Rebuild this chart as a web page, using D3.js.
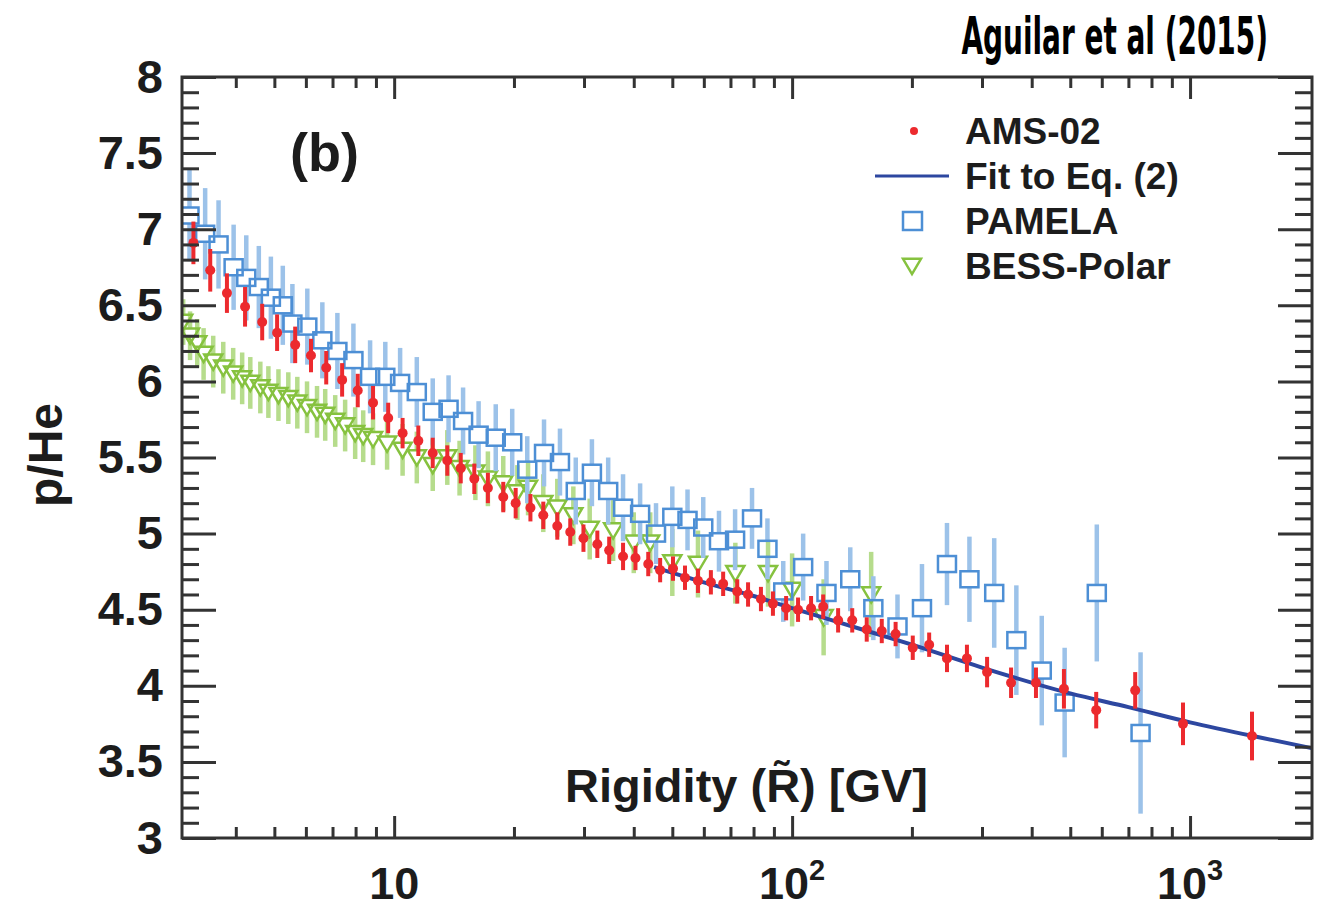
<!DOCTYPE html>
<html>
<head>
<meta charset="utf-8">
<script src="https://cdn.jsdelivr.net/npm/d3@7"></script>
<style>
  body { margin: 0; background: #fff; }
  text { font-family: "Liberation Sans", Arial, Helvetica, sans-serif; font-weight: bold; fill: #1c1c1c; }
</style>
</head>
<body>
<div id="chart"></div>
<script>
// AMS-02 p/He
const amsR = [3.13, 3.45, 3.8, 4.22, 4.66, 5.08, 5.64, 6.18, 6.75, 7.4, 8.1, 8.85,
  9.66, 10.5, 11.5, 12.5, 13.6, 14.7, 15.9, 17.2, 18.8, 20.2, 22.0, 23.7, 25.7, 27.7, 29.9, 32.4, 34.7, 37.6,
  40.4, 43.5, 46.6, 50.2, 53.8, 58.0, 62.5, 67.1, 72.8, 77.5, 83.5, 89.5, 96.6, 103.5, 111.6, 119.7, 130.5, 141.6, 154, 168, 182,
  201, 221, 245, 275, 309, 355, 410, 482, 581, 728, 960, 1431];
const amsV = [6.91, 6.73, 6.58, 6.49, 6.39, 6.32, 6.24, 6.17, 6.09, 6.01, 5.94, 5.86,
  5.76, 5.66, 5.61, 5.53, 5.48, 5.43, 5.36, 5.30, 5.24, 5.20, 5.17, 5.12, 5.05, 5.01, 4.97, 4.93, 4.89, 4.85,
  4.84, 4.80, 4.76, 4.77, 4.71, 4.69, 4.68, 4.67, 4.62, 4.60, 4.57, 4.54, 4.51, 4.50, 4.51, 4.52, 4.43, 4.43, 4.37, 4.36, 4.34,
  4.25, 4.27, 4.18, 4.18, 4.09, 4.02, 4.02, 3.98, 3.84, 3.97, 3.75, 3.67];
const amsErr = [0.14, 0.14, 0.13, 0.13, 0.12, 0.12, 0.12, 0.11, 0.11, 0.11, 0.11, 0.11,
  0.10, 0.10, 0.10, 0.10, 0.10, 0.10, 0.10, 0.10, 0.10, 0.10, 0.09, 0.09, 0.09, 0.09, 0.09, 0.09, 0.09, 0.09,
  0.08, 0.08, 0.08, 0.08, 0.08, 0.08, 0.08, 0.08, 0.08, 0.08, 0.08, 0.08, 0.08, 0.08, 0.08, 0.08, 0.08, 0.08, 0.08, 0.08, 0.08,
  0.08, 0.08, 0.09, 0.09, 0.10, 0.10, 0.10, 0.13, 0.12, 0.12, 0.14, 0.16];

// PAMELA
const pamR = [3.06, 3.35, 3.62, 3.95, 4.25, 4.57, 4.90, 5.25, 5.55, 6.05, 6.6, 7.2, 7.9, 8.7, 9.5,
  10.35, 11.4, 12.5, 13.7, 14.9, 16.3, 18.0, 19.8, 21.6, 23.8, 26.1, 28.6, 31.4, 34.5, 37.6,
  41.5, 45.5, 50, 54.6, 59.8, 65.5, 71.9, 79.3, 86.7, 95, 106.6, 122, 140, 160, 184, 212,
  245, 279, 322, 366, 424, 484, 583, 751];
const pamV = [7.09, 6.97, 6.90, 6.75, 6.68, 6.62, 6.55, 6.50, 6.38, 6.36, 6.27, 6.20, 6.14, 6.03, 6.03,
  5.99, 5.93, 5.80, 5.82, 5.74, 5.65, 5.63, 5.60, 5.42, 5.53, 5.47, 5.28, 5.40, 5.28, 5.17,
  5.13, 5.00, 5.11, 5.09, 5.04, 4.95, 4.96, 5.10, 4.90, 4.62, 4.78, 4.61, 4.70, 4.51, 4.39, 4.51,
  4.80, 4.70, 4.61, 4.30, 4.10, 3.89, 4.61, 3.69];
const pamErr = [0.30, 0.30, 0.29, 0.28, 0.28, 0.27, 0.27, 0.26, 0.26, 0.25, 0.25, 0.25, 0.24, 0.24, 0.23,
  0.23, 0.23, 0.22, 0.22, 0.22, 0.22, 0.22, 0.22, 0.22, 0.22, 0.22, 0.22, 0.22, 0.22, 0.22,
  0.20, 0.20, 0.20, 0.20, 0.20, 0.20, 0.20, 0.20, 0.20, 0.20, 0.22, 0.21, 0.21, 0.21, 0.21, 0.29,
  0.27, 0.28, 0.36, 0.36, 0.36, 0.36, 0.45, 0.53];

// BESS-Polar
const bessR = [2.95, 3.07, 3.20, 3.32, 3.51, 3.72, 3.94, 4.15, 4.35, 4.61, 4.83, 5.12, 5.42, 5.71, 6.04,
  6.40, 6.71, 7.11, 7.53, 7.98, 8.36, 8.85, 9.60, 10.5, 11.4, 12.5, 13.6, 14.6, 16.0, 17.2,
  18.8, 20.4, 21.7, 23.7, 25.7, 28.2, 31.0, 35.5, 40, 44, 50, 58, 72, 87, 100, 120, 158];
const bessV = [6.39, 6.30, 6.25, 6.18, 6.13, 6.09, 6.05, 6.02, 5.99, 5.96, 5.93, 5.91, 5.89, 5.86, 5.83,
  5.80, 5.78, 5.74, 5.71, 5.66, 5.64, 5.62, 5.59, 5.55, 5.50, 5.45, 5.50, 5.43, 5.40, 5.36,
  5.33, 5.27, 5.30, 5.20, 5.17, 5.12, 5.03, 5.02, 4.94, 4.94, 4.81, 4.80, 4.74, 4.74, 4.63, 4.45, 4.60];
const bessErr = [0.15, 0.16, 0.16, 0.17, 0.17, 0.17, 0.17, 0.17, 0.17, 0.17, 0.17, 0.17, 0.17, 0.17, 0.17,
  0.17, 0.17, 0.17, 0.17, 0.17, 0.17, 0.17, 0.17, 0.17, 0.17, 0.17, 0.18, 0.18, 0.18, 0.18,
  0.18, 0.18, 0.18, 0.19, 0.19, 0.19, 0.20, 0.20, 0.20, 0.20, 0.22, 0.22, 0.20, 0.22, 0.24, 0.25, 0.28];

// Fit to Eq. (2)
const fitR = [45, 60, 80, 100, 150, 200, 300, 500, 700, 1000, 1500, 2025];
const fitV = [4.78, 4.68, 4.59, 4.51, 4.37, 4.27, 4.12, 3.95, 3.86, 3.76, 3.66, 3.59];

// axes
const yMajor = [3, 3.5, 4, 4.5, 5, 5.5, 6, 6.5, 7, 7.5, 8];
const yLabels = ["3", "3.5", "4", "4.5", "5", "5.5", "6", "6.5", "7", "7.5", "8"];
const xMajor = [10, 100, 1000];
const xExp = ["", "2", "3"];
const legendNames = ["AMS-02", "Fit to Eq. (2)", "PAMELA", "BESS-Polar"];

const W = 1323, H = 910;
const L = 182, R = 1312, T = 77, B = 838;

const svg = d3.select("#chart").append("svg").attr("width", W).attr("height", H);

const x = d3.scaleLog().domain([2.93, 2025]).range([L, R]);
const y = d3.scaleLinear().domain([3, 8]).range([B, T]);

const zip = (rs, vs, es) => rs.map((r, i) => ({ r, v: vs[i], e: es ? es[i] : 0 }));
const ams = zip(amsR, amsV, amsErr);
const pam = zip(pamR, pamV, pamErr);
const bess = zip(bessR, bessV, bessErr);

svg.append("clipPath").attr("id", "clip")
  .append("rect").attr("x", L).attr("y", T).attr("width", R - L).attr("height", B - T);

const plot = svg.append("g").attr("clip-path", "url(#clip)");

// error bars that stop at the edge of an open marker
function gapBars(g, data, gap, color) {
  g.selectAll(null).data(data).enter().append("line")
    .attr("x1", d => x(d.r)).attr("x2", d => x(d.r))
    .attr("y1", d => y(d.v + d.e)).attr("y2", d => Math.max(y(d.v) - gap, y(d.v + d.e)))
    .attr("stroke", color).attr("stroke-width", 4.5);
  g.selectAll(null).data(data).enter().append("line")
    .attr("x1", d => x(d.r)).attr("x2", d => x(d.r))
    .attr("y1", d => Math.min(y(d.v) + gap, y(d.v - d.e))).attr("y2", d => y(d.v - d.e))
    .attr("stroke", color).attr("stroke-width", 4.5);
}

// BESS-Polar
const gB = plot.append("g");
gapBars(gB, bess, 7, "#b6dc8c");
const tri = s => `M${-s},${-s * 0.8}L${s},${-s * 0.8}L0,${s * 0.9}Z`;
gB.selectAll("path.tri").data(bess).enter().append("path")
  .attr("class", "tri")
  .attr("d", tri(9))
  .attr("transform", d => `translate(${x(d.r)},${y(d.v)})`)
  .attr("fill", "none").attr("stroke", "#86c23f").attr("stroke-width", 2.5);

// PAMELA
const gP = plot.append("g");
gapBars(gP, pam, 8, "#9cc2e9");
gP.selectAll("rect").data(pam).enter().append("rect")
  .attr("x", d => x(d.r) - 9).attr("y", d => y(d.v) - 8)
  .attr("width", 18).attr("height", 16)
  .attr("fill", "none").attr("stroke", "#4d8fd5").attr("stroke-width", 2.5);

// fit line
plot.append("path").datum(zip(fitR, fitV))
  .attr("d", d3.line().x(d => x(d.r)).y(d => y(d.v)).curve(d3.curveMonotoneX))
  .attr("fill", "none").attr("stroke", "#2d47a0").attr("stroke-width", 4);

// AMS-02
const gA = plot.append("g");
gA.selectAll("line").data(ams).enter().append("line")
  .attr("x1", d => x(d.r)).attr("x2", d => x(d.r))
  .attr("y1", d => y(d.v + d.e)).attr("y2", d => y(d.v - d.e))
  .attr("stroke", "#ec2a2e").attr("stroke-width", 4);
gA.selectAll("circle").data(ams).enter().append("circle")
  .attr("cx", d => x(d.r)).attr("cy", d => y(d.v)).attr("r", 5)
  .attr("fill", "#ec2a2e");

// axes: ticks pointing inward on all four sides
const yMinor = d3.range(30, 81).map(v => v / 10).filter(v => !yMajor.includes(v));
const xMinor = [3, 4, 5, 6, 7, 8, 9, 20, 30, 40, 50, 60, 70, 80, 90, 200, 300, 400, 500, 600, 700, 800, 900, 2000]
  .filter(v => x(v) > L + 5 && x(v) < R - 5);

const axisStyle = g => {
  g.select(".domain").remove();
  g.selectAll("line").attr("stroke", "#333").attr("stroke-width", 3);
};

svg.append("g").attr("transform", `translate(${L},0)`)
  .call(d3.axisLeft(y).tickValues(yMajor).tickSize(-34).tickPadding(19)
    .tickFormat((d, i) => yLabels[i]))
  .call(axisStyle)
  .call(g => g.selectAll("text").attr("font-size", 47).attr("fill", "#1c1c1c")
    .style("font-family", '"Liberation Sans", Arial, sans-serif').style("font-weight", "bold"));
svg.append("g").attr("transform", `translate(${L},0)`)
  .call(d3.axisLeft(y).tickValues(yMinor).tickSize(-17).tickFormat(""))
  .call(axisStyle);
svg.append("g").attr("transform", `translate(${R},0)`)
  .call(d3.axisRight(y).tickValues(yMajor).tickSize(-34).tickFormat(""))
  .call(axisStyle);
svg.append("g").attr("transform", `translate(${R},0)`)
  .call(d3.axisRight(y).tickValues(yMinor).tickSize(-17).tickFormat(""))
  .call(axisStyle);

svg.append("g").attr("transform", `translate(0,${B})`)
  .call(d3.axisBottom(x).tickValues(xMajor).tickSize(-22).tickFormat(""))
  .call(axisStyle);
svg.append("g").attr("transform", `translate(0,${B})`)
  .call(d3.axisBottom(x).tickValues(xMinor).tickSize(-11).tickFormat(""))
  .call(axisStyle);
svg.append("g").attr("transform", `translate(0,${T})`)
  .call(d3.axisTop(x).tickValues(xMajor).tickSize(-22).tickFormat(""))
  .call(axisStyle);
svg.append("g").attr("transform", `translate(0,${T})`)
  .call(d3.axisTop(x).tickValues(xMinor).tickSize(-11).tickFormat(""))
  .call(axisStyle);

// x tick labels with exponents
xMajor.forEach((v, i) => {
  const t = svg.append("text").attr("x", x(v)).attr("y", 899)
    .attr("text-anchor", "middle").attr("font-size", 45);
  t.append("tspan").text("10");
  if (xExp[i]) t.append("tspan").attr("font-size", 29).attr("dy", -19).text(xExp[i]);
});

// frame
svg.append("rect").attr("x", L).attr("y", T).attr("width", R - L).attr("height", B - T)
  .attr("fill", "none").attr("stroke", "#333").attr("stroke-width", 3);

// titles
svg.append("text").attr("transform", "translate(62,455) rotate(-90)")
  .attr("text-anchor", "middle").attr("font-size", 48).text("p/He");
svg.append("text").attr("x", 928).attr("y", 802).attr("text-anchor", "end")
  .attr("font-size", 47).text("Rigidity (R\u0303) [GV]");
svg.append("text").attr("x", 290).attr("y", 171).attr("font-size", 54).text("(b)");
svg.append("text").attr("transform", "translate(1268,54) scale(0.74,1.22)").attr("text-anchor", "end")
  .attr("font-size", 42)
  .style("font-family", '"Liberation Sans Narrow", "DejaVu Sans Condensed", sans-serif')
  .style("fill", "#000")
  .text("Aguilar et al (2015)");

// legend
const lg = svg.append("g");
const rowY = [131, 176, 221, 266];
lg.selectAll("text").data(legendNames).enter().append("text")
  .attr("x", 965).attr("y", (d, i) => rowY[i] + 13).attr("font-size", 37).text(d => d);
lg.append("circle").attr("cx", 914).attr("cy", rowY[0]).attr("r", 4).attr("fill", "#ec2a2e");
lg.append("line").attr("x1", 875).attr("x2", 949).attr("y1", rowY[1]).attr("y2", rowY[1])
  .attr("stroke", "#2d47a0").attr("stroke-width", 3);
lg.append("rect").attr("x", 903).attr("y", rowY[2] - 9).attr("width", 19).attr("height", 18)
  .attr("fill", "none").attr("stroke", "#4d8fd5").attr("stroke-width", 2.5);
lg.append("path").attr("d", tri(9)).attr("transform", `translate(912,${rowY[3]})`)
  .attr("fill", "none").attr("stroke", "#86c23f").attr("stroke-width", 2.5);
</script>
</body>
</html>
